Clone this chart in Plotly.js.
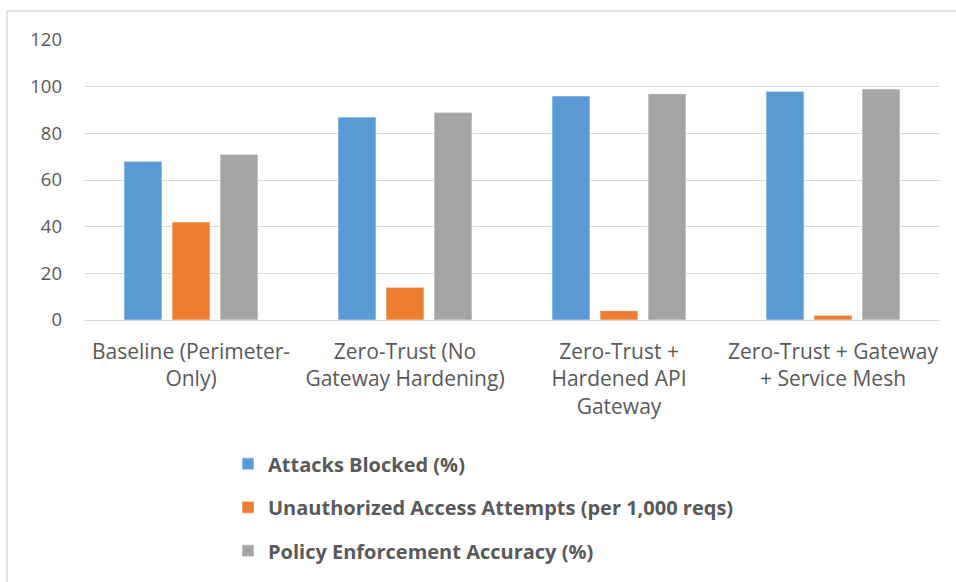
<!DOCTYPE html>
<html>
<head>
<meta charset="utf-8">
<script src="https://cdn.plot.ly/plotly-3.0.1.min.js"></script>
<style>html,body{margin:0;padding:0;background:#fff;}#chart{width:956px;height:582px;}</style>
</head>
<body>
<div id="chart"></div>
<script>
const categories = [
  "Baseline (Perimeter-<br>Only)",
  "Zero-Trust (No<br>Gateway Hardening)",
  "Zero-Trust +<br>Hardened API<br>Gateway",
  "Zero-Trust + Gateway<br>+ Service Mesh"
];
const seriesNames = [
  "Attacks Blocked (%)",
  "Unauthorized Access Attempts (per 1,000 reqs)",
  "Policy Enforcement Accuracy (%)"
];
const attacksBlocked = [68, 87, 96, 98];
const unauthorizedAttempts = [42, 14, 4, 2];
const policyAccuracy = [71, 89, 97, 99];
const yTicks = [0, 20, 40, 60, 80, 100, 120];
const colors = ["#5B9BD5", "#ED7D31", "#A5A5A5"];

const seriesValues = [attacksBlocked, unauthorizedAttempts, policyAccuracy];
const traces = seriesValues.map((vals, i) => ({
  type: "bar",
  x: categories,
  y: vals,
  name: seriesNames[i],
  legendgroup: "g" + i,
  marker: {color: colors[i], line: {color: "rgba(255,255,255,0.6)", width: 1}},
  hoverinfo: "x+y"
}));

const layout = {
  width: 956,
  height: 582,
  margin: {l: 84, r: 16, t: 40, b: 262, autoexpand: false},
  paper_bgcolor: "#ffffff",
  plot_bgcolor: "#ffffff",
  barmode: "group",
  bargap: 0.327,
  bargroupgap: 0.208,
  font: {family: "'Open Sans', Lato, sans-serif", color: "#595959", size: 18},
  xaxis: {
    type: "category",
    automargin: false,
    tickfont: {size: 21, color: "#595959"},
    showgrid: false,
    showline: false,
    zeroline: false,
    ticks: "",
    ticklabelstandoff: 17
  },
  yaxis: {
    range: [0, 120],
    automargin: false,
    tickvals: yTicks,
    ticktext: yTicks.map(String),
    tickfont: {size: 18.5, color: "#595959"},
    gridcolor: "#D9D9D9",
    gridwidth: 1,
    zeroline: true,
    zerolinecolor: "#D9D9D9",
    zerolinewidth: 1,
    showline: false,
    ticks: "",
    ticklabelstandoff: 21
  },
  legend: {
    orientation: "v",
    x: (228 - 84) / 856,
    xanchor: "left",
    y: -0.444,
    yanchor: "top",
    traceorder: "grouped",
    tracegroupgap: 14.5,
    font: {size: 20, color: "#595959", weight: "bold"},
    bgcolor: "rgba(0,0,0,0)",
    itemclick: false
  },
  shapes: [
    {type: "line", xref: "paper", yref: "paper",
     x0: (7 - 84) / 856, x1: (956 - 84) / 856, y0: (582 - 262 - 11) / 280, y1: (582 - 262 - 11) / 280,
     line: {color: "#D9D9D9", width: 1.5}},
    {type: "line", xref: "paper", yref: "paper",
     x0: (7 - 84) / 856, x1: (7 - 84) / 856, y0: (582 - 262 - 11) / 280, y1: (320 - 582) / 280,
     line: {color: "#D9D9D9", width: 1.5}}
  ],
  showlegend: true
};

Plotly.newPlot("chart", traces, layout, {displayModeBar: false, staticPlot: true});
</script>
</body>
</html>
